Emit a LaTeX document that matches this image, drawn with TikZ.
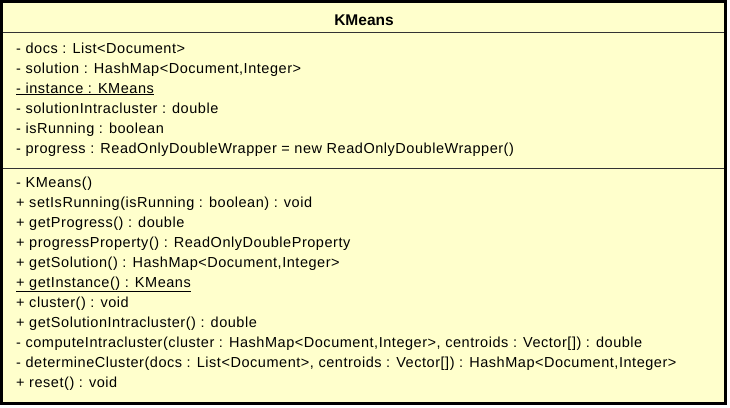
\documentclass[tikz,border=0pt]{standalone}
\usepackage{fontspec}
\setmainfont{Liberation Sans}
\newfontfamily\memberfont[LetterSpace=3.7]{Liberation Sans}
\usepackage{tikz}
\usetikzlibrary{positioning}
\definecolor{classfill}{HTML}{FFFFCC}

\begin{document}
\begin{tikzpicture}
  [
    x=1pt,
    y=-1pt,
    classbox/.style={
      draw=black,
      line width=2.6pt,
      fill=classfill
    },
    sep/.style={
      draw=black!80,
      line width=1pt
    },
    title/.style={
      inner sep=0pt,
      anchor=base,
      font=\fontsize{15.5}{17}\bfseries
    },
    member/.style={
      inner sep=0pt,
      anchor=base west,
      font=\memberfont\fontsize{14.5}{16}\selectfont
    }
  ]
  \useasboundingbox (0,0) rectangle (730,407);
  \draw [classbox] (1.5,1.5) rectangle (725.5,403.5);
  \draw [sep] (3,32.5) -- (724,32.5);
  \draw [sep] (3,168) -- (724,168);
  \node [title] (name) at (364,25) {KMeans};
    % attributes
    \node [member] (docs) at (16,53) {- docs : List<Document>};
    \node [member] (solution) at (16,73) {- solution : HashMap<Document,Integer>};
    \node [member] (instance) at (16,93) {\underline{- instance : KMeans}};
    \node [member] (intra) at (16,113) {- solutionIntracluster : double};
    \node [member] (running) at (16,133) {- isRunning : boolean};
    \node [member] (progress) at (16,153) {- progress : ReadOnlyDoubleWrapper = new ReadOnlyDoubleWrapper()};
    % methods
    \node [member] (ctor) at (16,187) {- KMeans()};
    \node [member] (setrun) at (16,207) {+ setIsRunning(isRunning : boolean) : void};
    \node [member] (getprog) at (16,227) {+ getProgress() : double};
    \node [member] (progprop) at (16,247) {+ progressProperty() : ReadOnlyDoubleProperty};
    \node [member] (getsol) at (16,267) {+ getSolution() : HashMap<Document,Integer>};
    \node [member] (getinst) at (16,287) {\underline{+ getInstance() : KMeans}};
    \node [member] (cluster) at (16,307) {+ cluster() : void};
    \node [member] (getintra) at (16,327) {+ getSolutionIntracluster() : double};
    \node [member] (compintra) at (16,347) {- computeIntracluster(cluster : HashMap<Document,Integer>, centroids : Vector[]) : double};
    \node [member] (determine) at (16,367) {- determineCluster(docs : List<Document>, centroids : Vector[]) : HashMap<Document,Integer>};
    \node [member] (reset) at (16,387) {+ reset() : void};
  \end{tikzpicture}
\end{document}
